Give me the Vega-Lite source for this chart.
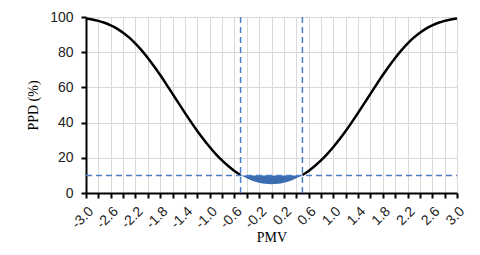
{
  "$schema": "https://vega.github.io/schema/vega-lite/v6.json",
  "width": 371,
  "height": 176,
  "autosize": "none",
  "padding": {"left": 86, "top": 17, "right": 23, "bottom": 62},
  "background": "white",
  "config": {
    "view": {"stroke": null},
    "axis": {
      "labelOverlap": false,
      "labelFont": "Liberation Sans",
      "labelFontSize": 14,
      "labelColor": "#222",
      "domainColor": "black",
      "domainWidth": 2,
      "tickColor": "black",
      "tickWidth": 2,
      "tickSize": 5,
      "gridColor": "#d9d9d9",
      "gridWidth": 1,
      "titleFont": "Liberation Serif",
      "titleFontSize": 14,
      "titleFontWeight": "normal",
      "titleColor": "black"
    }
  },
  "datasets": {
    "curve": [
      {"PMV": -3.0, "PPD": 99.12, "part": "L"},
      {"PMV": -2.9, "PPD": 98.58, "part": "L"},
      {"PMV": -2.8, "PPD": 97.81, "part": "L"},
      {"PMV": -2.7, "PPD": 96.73, "part": "L"},
      {"PMV": -2.6, "PPD": 95.29, "part": "L"},
      {"PMV": -2.5, "PPD": 93.43, "part": "L"},
      {"PMV": -2.4, "PPD": 91.10, "part": "L"},
      {"PMV": -2.3, "PPD": 88.26, "part": "L"},
      {"PMV": -2.2, "PPD": 84.91, "part": "L"},
      {"PMV": -2.1, "PPD": 81.07, "part": "L"},
      {"PMV": -2.0, "PPD": 76.76, "part": "L"},
      {"PMV": -1.9, "PPD": 72.05, "part": "L"},
      {"PMV": -1.8, "PPD": 67.02, "part": "L"},
      {"PMV": -1.7, "PPD": 61.75, "part": "L"},
      {"PMV": -1.6, "PPD": 56.35, "part": "L"},
      {"PMV": -1.5, "PPD": 50.90, "part": "L"},
      {"PMV": -1.4, "PPD": 45.51, "part": "L"},
      {"PMV": -1.3, "PPD": 40.27, "part": "L"},
      {"PMV": -1.2, "PPD": 35.25, "part": "L"},
      {"PMV": -1.1, "PPD": 30.52, "part": "L"},
      {"PMV": -1.0, "PPD": 26.12, "part": "L"},
      {"PMV": -0.9, "PPD": 22.10, "part": "L"},
      {"PMV": -0.8, "PPD": 18.49, "part": "L"},
      {"PMV": -0.7, "PPD": 15.30, "part": "L"},
      {"PMV": -0.6, "PPD": 12.55, "part": "L"},
      {"PMV": -0.5, "PPD": 10.22, "part": "L"},
      {"PMV": 0.5, "PPD": 10.22, "part": "R"},
      {"PMV": 0.6, "PPD": 12.55, "part": "R"},
      {"PMV": 0.7, "PPD": 15.30, "part": "R"},
      {"PMV": 0.8, "PPD": 18.49, "part": "R"},
      {"PMV": 0.9, "PPD": 22.10, "part": "R"},
      {"PMV": 1.0, "PPD": 26.12, "part": "R"},
      {"PMV": 1.1, "PPD": 30.52, "part": "R"},
      {"PMV": 1.2, "PPD": 35.25, "part": "R"},
      {"PMV": 1.3, "PPD": 40.27, "part": "R"},
      {"PMV": 1.4, "PPD": 45.51, "part": "R"},
      {"PMV": 1.5, "PPD": 50.90, "part": "R"},
      {"PMV": 1.6, "PPD": 56.35, "part": "R"},
      {"PMV": 1.7, "PPD": 61.75, "part": "R"},
      {"PMV": 1.8, "PPD": 67.02, "part": "R"},
      {"PMV": 1.9, "PPD": 72.05, "part": "R"},
      {"PMV": 2.0, "PPD": 76.76, "part": "R"},
      {"PMV": 2.1, "PPD": 81.07, "part": "R"},
      {"PMV": 2.2, "PPD": 84.91, "part": "R"},
      {"PMV": 2.3, "PPD": 88.26, "part": "R"},
      {"PMV": 2.4, "PPD": 91.10, "part": "R"},
      {"PMV": 2.5, "PPD": 93.43, "part": "R"},
      {"PMV": 2.6, "PPD": 95.29, "part": "R"},
      {"PMV": 2.7, "PPD": 96.73, "part": "R"},
      {"PMV": 2.8, "PPD": 97.81, "part": "R"},
      {"PMV": 2.9, "PPD": 98.58, "part": "R"},
      {"PMV": 3.0, "PPD": 99.12, "part": "R"}
    ],
    "zone": [
      {"PMV": -0.5, "PPD": 10.22, "base": 10},
      {"PMV": -0.4, "PPD": 8.33, "base": 10},
      {"PMV": -0.3, "PPD": 6.87, "base": 10},
      {"PMV": -0.2, "PPD": 5.83, "base": 10},
      {"PMV": -0.1, "PPD": 5.21, "base": 10},
      {"PMV": 0.0, "PPD": 5.0, "base": 10},
      {"PMV": 0.1, "PPD": 5.21, "base": 10},
      {"PMV": 0.2, "PPD": 5.83, "base": 10},
      {"PMV": 0.3, "PPD": 6.87, "base": 10},
      {"PMV": 0.4, "PPD": 8.33, "base": 10},
      {"PMV": 0.5, "PPD": 10.22, "base": 10}
    ],
    "vlines": [
      {"PMV": -0.5, "PPD": 0, "PPD2": 100},
      {"PMV": 0.5, "PPD": 0, "PPD2": 100}
    ],
    "hline": [
      {"PMV": -3, "PMV2": 3, "PPD": 10}
    ]
  },
  "encoding": {
    "x": {
      "field": "PMV",
      "type": "quantitative",
      "scale": {"domain": [-3, 3], "nice": false, "zero": false},
      "title": "PMV",
      "axis": {
        "values": [-3, -2.8, -2.6, -2.4, -2.2, -2, -1.8, -1.6, -1.4, -1.2, -1, -0.8, -0.6, -0.4, -0.2, 0, 0.2, 0.4, 0.6, 0.8, 1, 1.2, 1.4, 1.6, 1.8, 2, 2.2, 2.4, 2.6, 2.8, 3],
        "labelExpr": "(round(datum.value*10)+30) % 4 == 0 ? replace(format(datum.value, '.1f'), '\u2212', '-') : ''",
        "labelAngle": -45,
        "labelOverlap": false,
        "labelPadding": 6,
        "grid": true,
        "titlePadding": 0
      }
    },
    "y": {
      "field": "PPD",
      "type": "quantitative",
      "scale": {"domain": [0, 100], "nice": false},
      "title": "PPD (%)",
      "axis": {
        "values": [0, 20, 40, 60, 80, 100],
        "labelOverlap": false,
        "labelPadding": 8,
        "grid": true,
        "titlePadding": 9
      }
    }
  },
  "layer": [
    {
      "data": {"name": "curve"},
      "mark": {"type": "line", "color": "black", "strokeWidth": 2.5, "interpolate": "monotone"},
      "encoding": {"detail": {"field": "part"}}
    },
    {
      "data": {"name": "zone"},
      "mark": {"type": "area", "color": "#3b6db0", "interpolate": "monotone", "opacity": 1},
      "encoding": {"y2": {"field": "base"}}
    },
    {
      "data": {"name": "vlines"},
      "mark": {"type": "rule", "color": "#4a7fc8", "strokeWidth": 1.5, "strokeDash": [6, 4]},
      "encoding": {"y2": {"field": "PPD2"}}
    },
    {
      "data": {"name": "hline"},
      "mark": {"type": "rule", "color": "#4a7fc8", "strokeWidth": 1.5, "strokeDash": [6, 4]},
      "encoding": {"x2": {"field": "PMV2"}}
    }
  ]
}
